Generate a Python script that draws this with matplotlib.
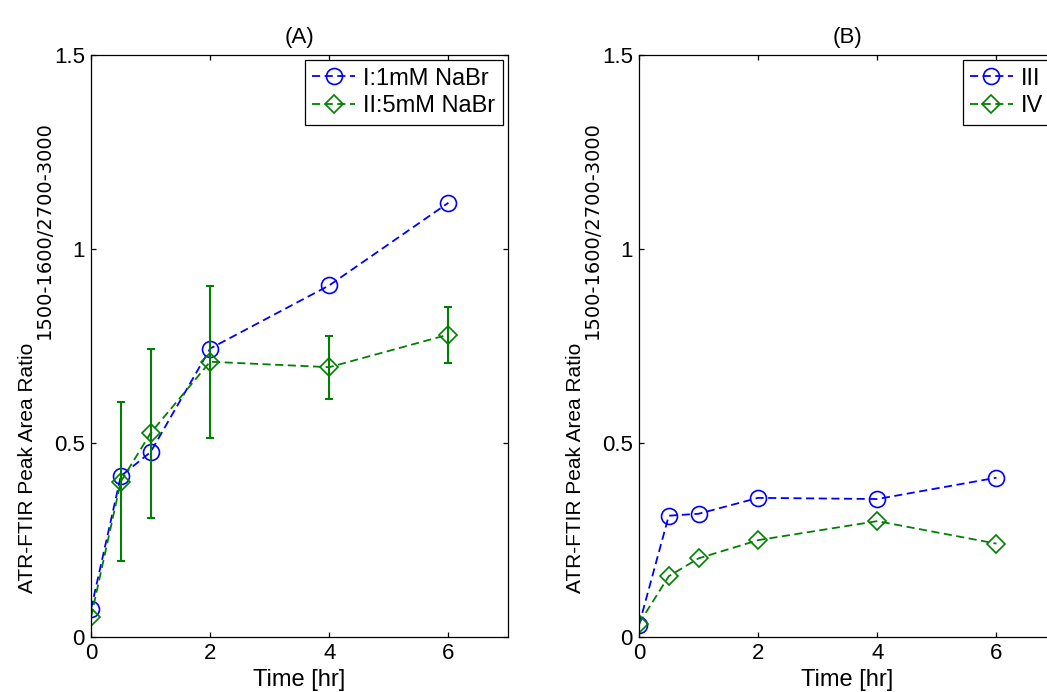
import matplotlib
matplotlib.use("Agg")
import matplotlib.pyplot as plt

plt.rcParams['font.family'] = ['Liberation Sans', 'DejaVu Sans']

# ---- data ----
time = [0, 0.5, 1, 2, 4, 6]

a_blue = [0.071, 0.414, 0.476, 0.743, 0.906, 1.119]
a_green = [0.050, 0.400, 0.525, 0.709, 0.695, 0.779]
a_green_err = [0.0, 0.205, 0.218, 0.196, 0.081, 0.072]

b_blue = [0.030, 0.312, 0.317, 0.358, 0.355, 0.410]
b_green = [0.034, 0.156, 0.202, 0.249, 0.298, 0.240]

labels_a = ['I:1mM NaBr', 'II:5mM NaBr']
labels_b = ['III', 'IV']
titles = ['(A)', '(B)']
xticks = [0, 2, 4, 6]
yticks = [0, 0.5, 1, 1.5]
ytick_labels = ['0', '0.5', '1', '1.5']
xlabel = 'Time [hr]'
ylabel_main = 'ATR-FTIR Peak Area Ratio'
ylabel_sub = '1500-1600/2700-3000'

BLUE = '#0000ff'
GREEN = '#008000'

W, H = 1047, 692
fig = plt.figure(figsize=(W / 100, H / 100), dpi=100)

# axes geometry in pixels
ax_left_px = [91, 639]
ax_w_px = 417
ax_top_px, ax_bot_px = 55, 636.7

axes = []
for lp in ax_left_px:
    axes.append(fig.add_axes([lp / W, (H - ax_bot_px) / H, ax_w_px / W,
                              (ax_bot_px - ax_top_px) / H]))
axA, axB = axes

dash = (0, (4.5, 2.5))
LW = 1.3

def style(ax, title):
    ax.set_xlim(0, 7)
    ax.set_ylim(0, 1.5)
    ax.set_xticks(xticks)
    ax.set_xticklabels([str(t) for t in xticks])
    ax.set_yticks(yticks)
    ax.set_yticklabels(ytick_labels)
    ax.tick_params(direction='in', length=3.5, width=0.9, top=True, right=True,
                   labelsize=16, colors='black')
    ax.tick_params(axis='x', pad=4.5)
    ax.tick_params(axis='y', pad=4.5)
    for s in ax.spines.values():
        s.set_linewidth(0.9)
        s.set_color('black')
    ax.set_title(title, fontsize=16, pad=9)
    ax.set_xlabel(xlabel, fontsize=17, labelpad=3.5)

def legend(ax, labels):
    leg = ax.legend(handles=ax.lines[:2], labels=labels, loc='upper right',
                    fontsize=17, frameon=True, fancybox=False, framealpha=1,
                    edgecolor='black', borderpad=0.32, borderaxespad=0.22,
                    handlelength=1.8, handletextpad=0.35, labelspacing=0.22,
                    numpoints=1)
    leg.get_frame().set_linewidth(0.9)

def ylabel(lp):
    off = lp - ax_left_px[0]
    fig.text((33 + off) / W, 1 - 593 / H, ylabel_main, rotation=90,
             rotation_mode='anchor', ha='left', va='baseline', fontsize=15)
    fig.text((50 + off) / W, 1 - 339 / H, ylabel_sub, rotation=90,
             rotation_mode='anchor', ha='left', va='baseline', fontsize=14,
             family='DejaVu Sans')

# Panel A
axA.plot(time, a_blue, linestyle=dash, color=BLUE, lw=LW, marker='o',
         ms=11.5, mfc='none', mec=BLUE, mew=1.2)
axA.plot(time, a_green, linestyle=dash, color=GREEN, lw=LW, marker='D',
         ms=9.5, mfc='none', mec=GREEN, mew=1.2)
idx = [i for i, e in enumerate(a_green_err) if e > 0]
axA.errorbar([time[i] for i in idx], [a_green[i] for i in idx],
             yerr=[a_green_err[i] for i in idx], fmt='none', ecolor=GREEN,
             elinewidth=1.5, capsize=3, capthick=1.5)
style(axA, titles[0])
legend(axA, labels_a)
ylabel(ax_left_px[0])

# Panel B
axB.plot(time, b_blue, linestyle=dash, color=BLUE, lw=LW, marker='o',
         ms=11.5, mfc='none', mec=BLUE, mew=1.2)
axB.plot(time, b_green, linestyle=dash, color=GREEN, lw=LW, marker='D',
         ms=9.5, mfc='none', mec=GREEN, mew=1.2)
style(axB, titles[1])
legend(axB, labels_b)
ylabel(ax_left_px[1])

fig.savefig('out.png', dpi=100)
